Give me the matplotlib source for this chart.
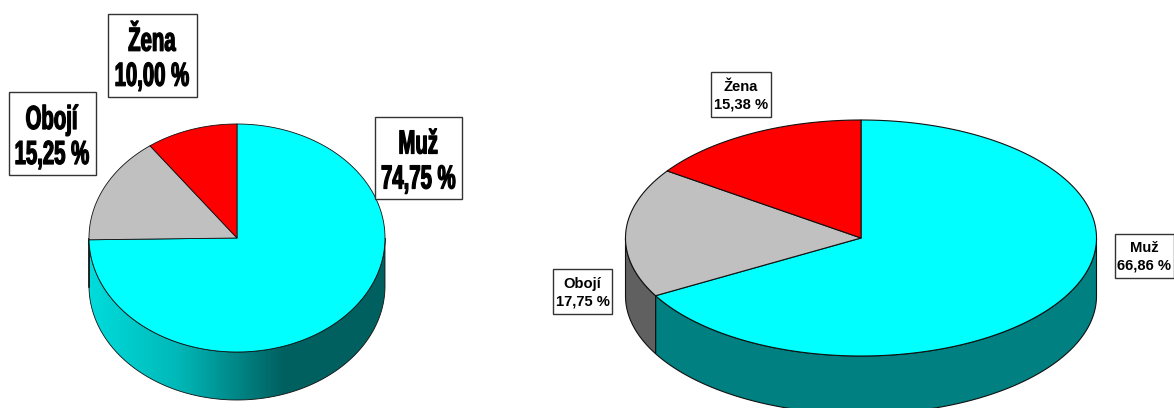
import numpy as np
import matplotlib
matplotlib.use("Agg")
import matplotlib.pyplot as plt
from matplotlib.patches import Polygon, Rectangle
from matplotlib.colors import LinearSegmentedColormap
from matplotlib.font_manager import FontProperties
from matplotlib.text import Text, TextPath
from matplotlib.transforms import Affine2D, Bbox

categories = ["Muž", "Obojí", "Žena"]
left_values = [74.75, 15.25, 10.00]
right_values = [66.86, 17.75, 15.38]
top_colors = ["#00ffff", "#c0c0c0", "#ff0000"]
side_colors = ["#008080", "#606060", "#800000"]

W, H = 1174, 408
fig = plt.figure(figsize=(W / 100, H / 100), dpi=100)
ax = fig.add_axes([0, 0, 1, 1])
ax.set_xlim(0, W)
ax.set_ylim(H, 0)
ax.axis("off")


class SqueezedText(Text):
    """Two-line text drawn horizontally condensed (like the stretched labels of the source)."""
    sx = 0.61
    spacing = 35.0  # px between lines
    bold = 1.25     # extra stroke, px

    def _lines(self, renderer):
        fp = self.get_fontproperties()
        px = self.get_fontsize() * self.figure.dpi / 72
        cx, cy = self.get_transform().transform(self.get_position())
        lines = self.get_text().split("\n")
        out = []
        for i, line in enumerate(lines):
            tp = TextPath((0, 0), line, size=px, prop=fp)
            ext = tp.get_extents()
            w = ext.width * self.sx
            base = cy - (i - (len(lines) - 1) / 2) * self.spacing - 0.36 * px
            tr = Affine2D().translate(-ext.x0, 0).scale(self.sx, 1).translate(cx - w / 2, base)
            out.append((tp, tr, w, base, px))
        return out

    def draw(self, renderer):
        if not self.get_visible():
            return
        gc = renderer.new_gc()
        gc.set_foreground(self.get_color())
        gc.set_linewidth(self.bold * 72 / self.figure.dpi)
        gc.set_joinstyle("round")
        for tp, tr, *_ in self._lines(renderer):
            renderer.draw_path(gc, tp, tr, rgbFace=matplotlib.colors.to_rgb(self.get_color()))
        gc.restore()

    def get_window_extent(self, renderer=None, dpi=None):
        items = self._lines(renderer)
        cx, _ = self.get_transform().transform(self.get_position())
        w = max(i[2] for i in items)
        y0 = min(i[3] for i in items) - 0.1 * items[0][4]
        y1 = max(i[3] for i in items) + 0.9 * items[0][4]
        return Bbox([[cx - w / 2, y0], [cx + w / 2, y1]])


def ell(cx, cy, rx, ry, t):
    """t: radians clockwise from 12 o'clock"""
    return cx + rx * np.sin(t), cy - ry * np.cos(t)


def pie3d(values, cx, cy, rx, ry, depth, gradient=False, lw=0.8):
    fr = np.array(values) / sum(values)
    edges = np.concatenate([[0], np.cumsum(fr)]) * 2 * np.pi
    edges[-1] = 2 * np.pi
    for i in range(len(values)):
        a = max(edges[i], np.pi / 2)
        b = min(edges[i + 1], 3 * np.pi / 2)
        if b <= a:
            continue
        t = np.linspace(a, b, 200)
        x, y = ell(cx, cy, rx, ry, t)
        pts = np.r_[np.c_[x, y], np.c_[x, y + depth][::-1]]
        wall = Polygon(pts, closed=True, fc=side_colors[i], ec="#111111", lw=lw, zorder=2)
        ax.add_patch(wall)
        if gradient and i == 0:
            wall.set_facecolor("none")
            cmap = LinearSegmentedColormap.from_list(
                "w", [(0, "#00dcdc"), (0.30, "#00b8b8"), (0.66, "#005f5f"),
                      (1, "#006060")])
            im = ax.imshow(np.linspace(0, 1, 256)[None, :], cmap=cmap, aspect="auto",
                           extent=(cx - rx, cx + rx, cy + ry + depth, cy), zorder=1.5)
            im.set_clip_path(Polygon(pts, closed=True, transform=ax.transData))
    ax.set_xlim(0, W)
    ax.set_ylim(H, 0)
    for i in range(len(values)):
        t = np.linspace(edges[i], edges[i + 1], 300)
        x, y = ell(cx, cy, rx, ry, t)
        pts = np.r_[[[cx, cy]], np.c_[x, y]]
        ax.add_patch(Polygon(pts, closed=True, fc=top_colors[i], ec="#111111",
                             lw=lw, joinstyle="round", zorder=3))


def fmt(name, v):
    return f"{name}\n{v:.2f} %".replace(".", ",")


def box(x0, y0, x1, y1, txt, heavy):
    ax.add_patch(Rectangle((x0, y0), x1 - x0, y1 - y0, fc="white", ec="#333333", lw=1, zorder=4))
    if heavy:
        t = SqueezedText((x0 + x1) / 2, (y0 + y1) / 2 + 1, txt, color="black", zorder=5,
                         fontproperties=FontProperties(family="Liberation Sans", weight="bold", size=24))
        ax.add_artist(t)
    else:
        ax.text((x0 + x1) / 2, (y0 + y1) / 2 + 1, txt, ha="center", va="center", zorder=5,
                family="Liberation Sans", weight="bold", fontsize=10.6,
                linespacing=1.35, color="black")


pie3d(left_values, 237, 238, 148, 114, 48, gradient=True, lw=0.6)
pie3d(right_values, 861, 238, 235.5, 118, 58)

box(375, 117, 462, 199, fmt(categories[0], left_values[0]), True)
box(9, 92, 95.5, 175, fmt(categories[1], left_values[1]), True)
box(108, 14, 196.5, 96.5, fmt(categories[2], left_values[2]), True)
box(1115, 234, 1173.5, 278, fmt(categories[0], right_values[0]), False)
box(553, 269, 612, 314, fmt(categories[1], right_values[1]), False)
box(711, 72, 771, 117, fmt(categories[2], right_values[2]), False)

fig.savefig("out.png", dpi=100)
